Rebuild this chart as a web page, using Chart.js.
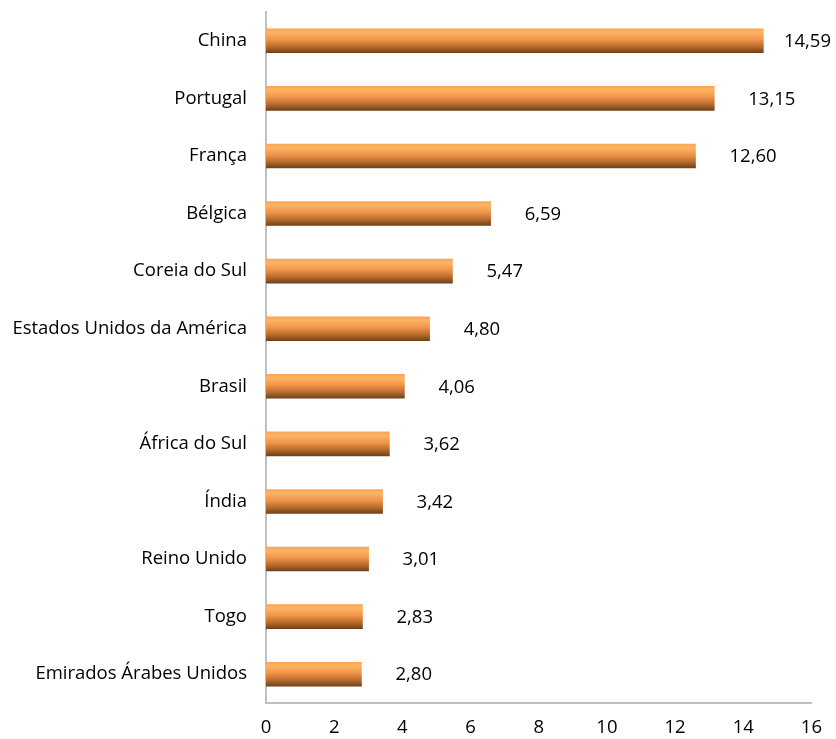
<!DOCTYPE html>
<html>
<head>
<meta charset="utf-8">
<script src="https://cdn.jsdelivr.net/npm/chart.js@4"></script>
<style>
  html, body { margin: 0; padding: 0; background: #fff; }
  #wrap { width: 836px; height: 739px; }
</style>
</head>
<body>
<div id="wrap"><canvas id="c"></canvas></div>
<script>
// countries, top to bottom
var countries = [
  'China', 'Portugal', 'França', 'Bélgica', 'Coreia do Sul',
  'Estados Unidos da América', 'Brasil', 'África do Sul', 'Índia',
  'Reino Unido', 'Togo', 'Emirados Árabes Unidos'
];
var values = [14.59, 13.15, 12.60, 6.59, 5.47, 4.80, 4.06, 3.62, 3.42, 3.01, 2.83, 2.80];
var xTicks = [0, 2, 4, 6, 8, 10, 12, 14, 16];

var FONT = '"Open Sans", sans-serif';
var FSIZE = 18.5;
var BAR_H = 24;

function fmt(v) {
  return v.toFixed(2).replace('.', ',');
}

// cylinder-ish shading like the original
function barFill(ctx) {
  var chart = ctx.chart;
  var y = chart.scales && chart.scales.y;
  if (!y || ctx.dataIndex === undefined) return '#f79646';
  var mid = y.getPixelForValue(ctx.dataIndex);
  if (!isFinite(mid)) return '#f79646';
  var g = chart.ctx.createLinearGradient(0, mid - BAR_H / 2, 0, mid + BAR_H / 2);
  g.addColorStop(0, '#f7a459');
  g.addColorStop(0.15, '#ffb462');
  g.addColorStop(0.45, '#f0954a');
  g.addColorStop(0.75, '#b86a2c');
  g.addColorStop(1, '#6e421a');
  return g;
}

var valueLabels = {
  id: 'valueLabels',
  afterDatasetsDraw: function(chart) {
    var c = chart.ctx;
    var meta = chart.getDatasetMeta(0);
    c.save();
    c.font = FSIZE + 'px ' + FONT;
    c.fillStyle = '#000';
    c.textBaseline = 'middle';
    c.textAlign = 'left';
    meta.data.forEach(function(bar, i) {
      var txt = fmt(values[i]);
      var w = c.measureText(txt).width;
      var x = Math.min(bar.x + 34, chart.width - w - 5);
      c.fillText(txt, x, bar.y + 1);
    });
    c.restore();
  }
};

new Chart(document.getElementById('c'), {
  type: 'bar',
  data: {
    labels: countries,
    datasets: [{
      data: values,
      backgroundColor: barFill,
      borderWidth: 0,
      barThickness: BAR_H
    }]
  },
  options: {
    indexAxis: 'y',
    responsive: true,
    maintainAspectRatio: false,
    animation: false,
    layout: { padding: { top: 12, right: 22, left: 0, bottom: 0 } },
    plugins: {
      legend: { display: false },
      tooltip: { enabled: false }
    },
    scales: {
      x: {
        min: 0,
        max: 16,
        afterBuildTicks: function(axis) {
          axis.ticks = xTicks.map(function(v) { return { value: v }; });
        },
        grid: { display: false, drawTicks: false },
        border: { display: true, color: '#bfbfbf', width: 2 },
        ticks: {
          color: '#000',
          padding: 14,
          maxRotation: 0,
          font: { family: FONT, size: FSIZE }
        },
        afterFit: function(scale) { scale.height = 36; }
      },
      y: {
        grid: { display: false, drawTicks: false },
        border: { display: true, color: '#bfbfbf', width: 2 },
        ticks: {
          color: '#000',
          padding: 19,
          font: { family: FONT, size: FSIZE }
        },
        afterFit: function(scale) {
          scale.width = 266;
          scale.paddingTop = 0;
          scale.paddingBottom = 0;
        }
      }
    }
  },
  plugins: [valueLabels]
});
</script>
</body>
</html>
